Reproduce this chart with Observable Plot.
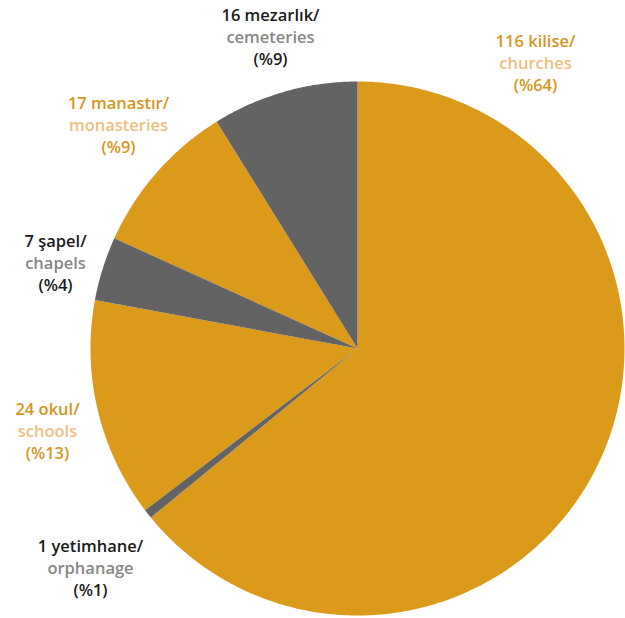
<!DOCTYPE html>
<html>
<head>
<meta charset="utf-8">
<script src="https://cdn.jsdelivr.net/npm/d3@7"></script>
<script src="https://cdn.jsdelivr.net/npm/@observablehq/plot@0.6"></script>
<style>
  html, body { margin: 0; padding: 0; background: #fff; }
  #chart svg { display: block; }
</style>
</head>
<body>
<div id="chart"></div>
<script>
// ---- data ----
const namesTr = ["kilise", "yetimhane", "okul", "şapel", "manastır", "mezarlık"];
const namesEn = ["churches", "orphanage", "schools", "chapels", "monasteries", "cemeteries"];
const counts = [116, 1, 24, 7, 17, 16];
const percents = [64, 1, 13, 4, 9, 9];
const groups = ["gold", "grey", "gold", "grey", "gold", "grey"];

// ---- layout (pixel offsets of label middle line from pie centre) ----
const labelOffsets = [[178, -285], [-267, 220], [-310, 83], [-302, -85], [-239, -223], [-87, -311]];
const W = 625, H = 618, CX = 357, CY = 348, R = 267;
const LINE = 22;

const colors = {
  gold: {slice: "#dc9a1b", strong: "#d6951b", soft: "#eebf80"},
  grey: {slice: "#636363", strong: "#1a1a1a", soft: "#878787"}
};

// pie angles via d3.pie (clockwise from top)
const pie = d3.pie().sort(null).value(d => d.count);
const rows = namesTr.map((tr, i) => ({
  key: i, tr, en: namesEn[i], count: counts[i], pct: percents[i], group: groups[i],
  lx: labelOffsets[i][0], ly: -labelOffsets[i][1]
}));
const arcs = pie(rows);

// polygon points for each slice, in units where 1 = 1 px, centre at 0,0
const pts = [];
for (const a of arcs) {
  const r = a.data;
  pts.push({key: r.key, group: r.group, x: 0, y: 0});
  const n = Math.max(2, Math.ceil((a.endAngle - a.startAngle) / (Math.PI / 360)));
  for (let k = 0; k <= n; k++) {
    const t = a.startAngle + (a.endAngle - a.startAngle) * k / n;
    pts.push({key: r.key, group: r.group, x: R * Math.sin(t), y: R * Math.cos(t)});
  }
  pts.push({key: r.key, group: r.group, x: 0, y: 0});
}

const font = {fontFamily: "'Open Sans', sans-serif", fontWeight: 600, fontSize: 16.5, textAnchor: "middle"};

const chart = Plot.plot({
  width: W,
  height: H,
  margin: 0,
  x: {domain: [-CX, W - CX], axis: null},
  y: {domain: [-(H - CY), CY], axis: null},
  color: {type: "identity"},
  marks: [
    ...["gold", "grey"].map(g => Plot.line(pts.filter(p => p.group === g), {
      x: "x", y: "y", z: "key", fill: colors[g].slice, stroke: "none", curve: "linear"
    })),
    Plot.text(rows, {x: "lx", y: "ly", dy: -LINE, text: d => `${d.count} ${d.tr}/`,
      fill: d => colors[d.group].strong, ...font}),
    Plot.text(rows, {x: "lx", y: "ly", text: d => d.en,
      fill: d => colors[d.group].soft, ...font}),
    Plot.text(rows, {x: "lx", y: "ly", dy: LINE, text: d => `(%${d.pct})`,
      fill: d => colors[d.group].strong, ...font})
  ]
});
document.getElementById("chart").appendChild(chart);
</script>
</body>
</html>
